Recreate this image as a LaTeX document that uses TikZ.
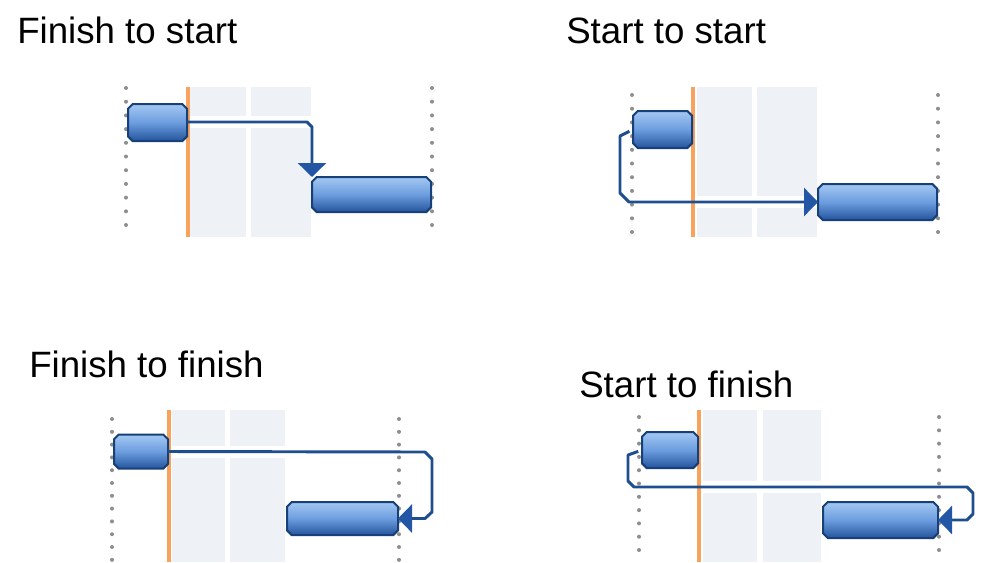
\documentclass[tikz,border=0pt]{standalone}
\usepackage{fontspec}
\setmainfont{Liberation Sans}
\usetikzlibrary{arrows.meta}
\definecolor{connc}{HTML}{1F4E8E}
\definecolor{arrowc}{HTML}{2357A6}
\definecolor{barborder}{HTML}{173F78}
\definecolor{bartop}{HTML}{A4C8F2}
\definecolor{barmid}{HTML}{6C9DDF}
\definecolor{barbot}{HTML}{24549C}
\definecolor{orangec}{HTML}{F7A35E}
\definecolor{bandc}{HTML}{EEF1F6}
\definecolor{dotc}{HTML}{8E8E8E}
\tikzset{
  title/.style={anchor=base west, inner sep=0pt, font=\fontsize{27.5}{33}\selectfont},
  barbox/.style 2 args={rectangle, inner sep=0pt, outer sep=0pt,
    minimum width=#1*0.75pt, minimum height=#2*0.75pt},
  barfill/.style={draw=barborder, line width=1.5pt, line join=miter,
    top color=bartop, bottom color=barbot, middle color=barmid},
  link/.style={draw=connc, line width=2.2pt, line join=round,
    -{Triangle[width=21pt, length=10.5pt, fill=arrowc, color=arrowc]}},
  today/.style={draw=orangec, line width=2.6pt},
  band/.style={fill=bandc},
  gap/.style={fill=white},
  dot/.style={fill=dotc}
}
% task bar: named box plus chamfered, shaded outline
\newcommand\taskbar[5]{%
  \node[barbox={#4}{#5}] (#1) at (#2,#3) {};
  \path[barfill]
    ([xshift=3.5pt]#1.north west) -- ([xshift=-3.5pt]#1.north east)
    -- ([yshift=-3.5pt]#1.north east) -- ([yshift=3.5pt]#1.south east)
    -- ([xshift=-3.5pt]#1.south east) -- ([xshift=3.5pt]#1.south west)
    -- ([yshift=3.5pt]#1.south west) -- ([yshift=-3.5pt]#1.north west) -- cycle;
}
\begin{document}
\begin{tikzpicture}[x=0.75pt,y=-0.75pt]
\useasboundingbox (0,0) rectangle (998,562);

% ---------- titles ----------
\node[title] (t1) at (17,43) {Finish to start};
\node[title] (t2) at (566,43) {Start to start};
\node[title] (t3) at (29,377) {Finish to finish};
\node[title] (t4) at (579,397) {Start to finish};

% ---------- shaded bands ----------
\fill[band] (190,87) rectangle (246,237);
\fill[band] (251,87) rectangle (311,237);
\fill[gap] (189,116) rectangle (312,128);

\fill[band] (697,87) rectangle (752,237);
\fill[band] (757,87) rectangle (817,237);
\fill[gap] (696,196) rectangle (818,208);

\fill[band] (172,410) rectangle (225,562);
\fill[band] (230,410) rectangle (285,562);
\fill[gap] (171,446) rectangle (286,458);

\fill[band] (703,410) rectangle (757,562);
\fill[band] (763,410) rectangle (821,562);
\fill[gap] (702,481) rectangle (822,493);

% ---------- today lines ----------
\draw[today] (188,87) -- (188,237);
\draw[today] (693,87) -- (693,237);
\draw[today] (169,410) -- (169,562);
\draw[today] (699,410) -- (699,562);

% ---------- dotted lines ----------
\foreach \k in {0,...,10} {
  \fill[dot] (126,{88+13.7*\k}) circle[radius=1.5pt];
  \fill[dot] (432,{88+13.7*\k}) circle[radius=1.5pt];
  \fill[dot] (632,{95+13.7*\k}) circle[radius=1.5pt];
  \fill[dot] (938,{95+13.7*\k}) circle[radius=1.5pt];
  \fill[dot] (639,{417+13.3*\k}) circle[radius=1.5pt];
  \fill[dot] (939,{417+13.3*\k}) circle[radius=1.5pt];
}
\foreach \k in {0,...,11} {
  \fill[dot] (112,{419+12.8*\k}) circle[radius=1.5pt];
  \fill[dot] (399,{419+12.8*\k}) circle[radius=1.5pt];
}

% ---------- task bars ----------
\taskbar{a1}{157.5}{122.5}{59}{37}
\taskbar{b1}{371.5}{194.5}{119}{35}
\taskbar{a2}{662.5}{129.5}{59}{37}
\taskbar{b2}{877.5}{202}{119}{36}
\taskbar{a3}{141}{451.5}{54}{34}
\taskbar{b3}{342.5}{518.5}{111}{33}
\taskbar{a4}{670}{450}{56}{36}
\taskbar{b4}{880.5}{520}{115}{36}

% ---------- links ----------
\draw[link] (a1.east |- 0,122) -- (307,122) -- (312,127) -- (b1.north west);
\draw[link, shorten <=3pt] (a2.west) -- (620,136) -- (620,193) -- (629,202) -- (b2.west);
\draw[link] (a3.east) -- (425,452) -- (432,459) -- (432,512) -- (425,518.5) -- (b3.east);
\draw[link, shorten <=3pt] (a4.west) -- (628,455) -- (628,481) -- (634,487) -- (967,487) -- (973,493) -- (973,514) -- (967,520) -- (b4.east);
\end{tikzpicture}
\end{document}
